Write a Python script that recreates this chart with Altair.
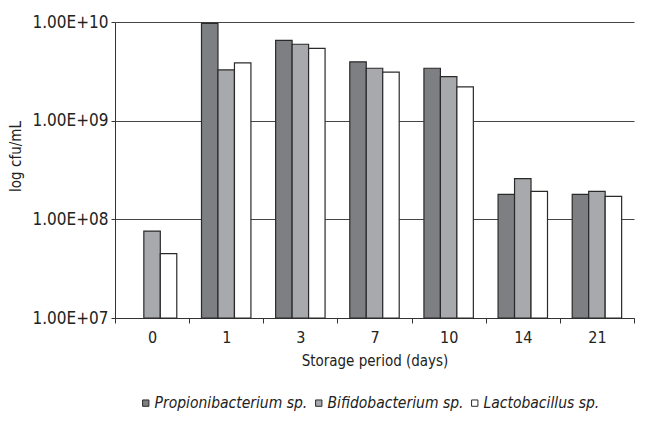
import altair as alt
import pandas as pd

days = ["0", "1", "3", "7", "10", "14", "21"]
species = ["Propionibacterium sp.", "Bifidobacterium sp.", "Lactobacillus sp."]
propioni = [None, 9.7e9, 6.5e9, 3.95e9, 3.4e9, 1.79e8, 1.79e8]
bifido = [7.6e7, 3.27e9, 5.95e9, 3.4e9, 2.8e9, 2.58e8, 1.92e8]
lacto = [4.5e7, 3.85e9, 5.4e9, 3.1e9, 2.2e9, 1.92e8, 1.71e8]
colors = ["#7e7f83", "#a8a9ad", "#ffffff"]

rows = []
for name, vals in zip(species, [propioni, bifido, lacto]):
    for d, v in zip(days, vals):
        if v is not None:
            rows.append({"day": d, "species": name, "count": v})
df = pd.DataFrame(rows)

FONT = "DejaVu Sans Condensed"

chart = alt.Chart(df).mark_bar(stroke="#2a2a2a", strokeWidth=1.2).encode(
    x=alt.X("day:N", sort=days, title="Storage period (days)",
            scale=alt.Scale(paddingInner=0, paddingOuter=0),
            axis=alt.Axis(labelAngle=0, tickBand="extent", domainColor="#333",
                          tickColor="#333", tickSize=5, labelPadding=6,
                          labelFontSize=16, titleFontSize=15, titlePadding=8)),
    xOffset=alt.XOffset("species:N", sort=species,
                        scale=alt.Scale(domain=species, paddingInner=0, paddingOuter=0.75)),
    y=alt.Y("count:Q", title="log cfu/mL",
            scale=alt.Scale(type="log", domain=[1e7, 1e10], nice=False),
            axis=alt.Axis(values=[1e7, 1e8, 1e9, 1e10],
                          labelExpr='"1.00E+" + format(round(log(datum.value)/LN10), "02d")',
                          grid=True, gridColor="#444", gridWidth=1,
                          domainColor="#333", tickColor="#333", tickSize=4,
                          labelFontSize=17, titleFontSize=15,
                          labelPadding=3, titlePadding=9, titleY=134)),
    y2=alt.Y2(datum=1e7),
    fill=alt.Fill("species:N", sort=species,
                  scale=alt.Scale(domain=species, range=colors),
                  legend=alt.Legend(title=None, orient="none", direction="horizontal",
                                    legendX=23, legendY=373, symbolType="square",
                                    symbolSize=40, symbolStrokeColor="#2a2a2a",
                                    symbolStrokeWidth=1, labelFontStyle="italic",
                                    columnPadding=3, symbolOffset=0, labelOffset=1)),
).properties(
    width=519, height=296,
    padding={"left": 0, "top": 5, "right": 0, "bottom": 0},
).configure_view(stroke=None).configure_axis(
    labelFont=FONT, titleFont=FONT,
    labelColor="#222", titleColor="#222", titleFontWeight="normal"
).configure_legend(labelFont=FONT, labelFontSize=15.5, labelColor="#222")

chart.save("out.html", embed_options={"renderer": "svg", "actions": False})
